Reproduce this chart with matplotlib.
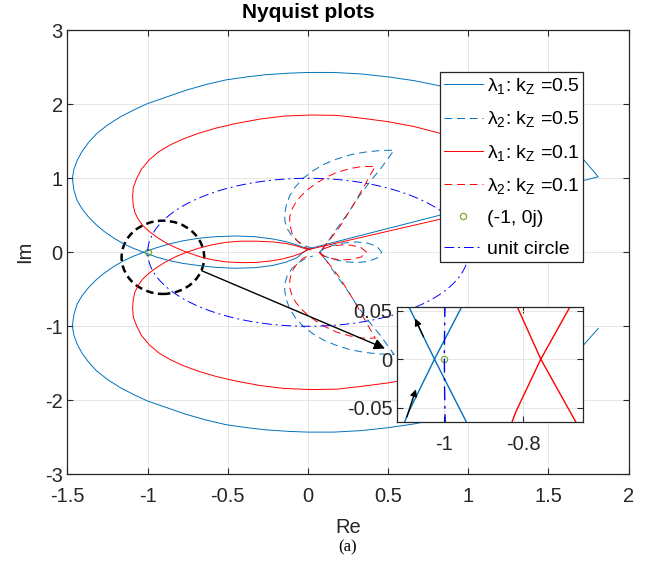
import numpy as np
import matplotlib
matplotlib.use('Agg')
import matplotlib.pyplot as plt
from matplotlib.patches import Ellipse
from matplotlib.ticker import FormatStrFormatter

plt.rcParams['font.family'] = ['Liberation Sans', 'DejaVu Sans']
plt.rcParams['mathtext.default'] = 'regular'
plt.rcParams['axes.unicode_minus'] = False

lam1_k05_re = [1.81, 1.72, 1.65, 1.55, 1.40, 1.20, 1.00, 0.82, 0.66, 0.50, 0.33, 0.16, 0.00, -0.12, -0.26,
               -0.38, -0.51, -0.63, -0.76, -0.88, -1.00, -1.08, -1.17, -1.25, -1.32, -1.37, -1.41, -1.44,
               -1.46, -1.47, -1.46, -1.44, -1.41, -1.37, -1.32, -1.27, -1.21, -1.15, -1.09, -1.025, -0.956,
               -0.87, -0.78, -0.68, -0.57, -0.45, -0.33, -0.22, -0.14, -0.07, 0.00,
               -0.03, -0.07, -0.14, -0.22, -0.33, -0.45, -0.57, -0.68, -0.78, -0.87, -0.944, -1.025,
               -1.09, -1.15, -1.21, -1.27, -1.32, -1.37, -1.41, -1.44, -1.46, -1.47, -1.46, -1.44, -1.41,
               -1.37, -1.32, -1.25, -1.17, -1.08, -1.00, -0.88, -0.76, -0.63, -0.51, -0.38, -0.26,
               -0.12, 0.00, 0.16, 0.33, 0.50, 0.66, 0.82, 1.00, 1.20, 1.40, 1.55, 1.65, 1.72, 1.81,
               1.72, 0.82, 0.00]
lam1_k05_im = [-1.03, -1.25, -1.42, -1.60, -1.80, -2.00, -2.15, -2.25, -2.32, -2.37, -2.41, -2.43, -2.43, -2.42, -2.40,
               -2.37, -2.33, -2.27, -2.19, -2.10, -2.01, -1.93, -1.83, -1.72, -1.60, -1.48, -1.36, -1.24,
               -1.12, -1.00, -0.84, -0.70, -0.59, -0.48, -0.37, -0.28, -0.19, -0.115, -0.054, 0.0, 0.054,
               0.11, 0.155, 0.19, 0.212, 0.22, 0.21, 0.18, 0.145, 0.10, 0.045,
               0.0, -0.075, -0.135, -0.178, -0.208, -0.216, -0.205, -0.18, -0.15, -0.11, -0.065, 0.0,
               0.054, 0.115, 0.19, 0.28, 0.37, 0.48, 0.59, 0.70, 0.84, 1.00, 1.12, 1.24, 1.36,
               1.48, 1.60, 1.72, 1.83, 1.93, 2.01, 2.10, 2.19, 2.27, 2.33, 2.37, 2.40,
               2.42, 2.43, 2.43, 2.41, 2.37, 2.32, 2.25, 2.15, 2.00, 1.80, 1.60, 1.42, 1.25, 1.02,
               0.97, 0.50, 0.045]

lam2_k05_re = [0.03, -0.02, -0.06, -0.10, -0.13, -0.144, -0.145, -0.135, -0.115, -0.08, -0.03, 0.03, 0.10,
               0.18, 0.27, 0.36, 0.45, 0.537, 0.49, 0.45, 0.40, 0.35, 0.30, 0.26, 0.21, 0.16, 0.12, 0.09,
               0.075, 0.10, 0.15, 0.22, 0.30, 0.37, 0.43, 0.46, 0.43, 0.37, 0.30, 0.22, 0.15, 0.10, 0.075,
               0.09, 0.12, 0.16, 0.21, 0.26, 0.30, 0.35, 0.40, 0.45, 0.49, 0.537, 0.45, 0.36, 0.27, 0.18,
               0.10, 0.03, -0.03, -0.08, -0.115, -0.135, -0.145, -0.144, -0.13, -0.10, -0.06, -0.02, 0.03]
lam2_k05_im = [0.05, 0.09, 0.14, 0.22, 0.32, 0.42, 0.52, 0.64, 0.76, 0.88, 1.00, 1.10, 1.19,
               1.26, 1.32, 1.355, 1.375, 1.38, 1.24, 1.12, 0.99, 0.85, 0.70, 0.56, 0.41, 0.26, 0.13, 0.04,
               -0.01, -0.05, -0.09, -0.125, -0.14, -0.125, -0.08, 0.0, 0.08, 0.125, 0.14, 0.125, 0.09, 0.05, 0.01,
               -0.04, -0.13, -0.26, -0.41, -0.56, -0.70, -0.85, -0.99, -1.12, -1.24, -1.38, -1.375, -1.355, -1.32, -1.26,
               -1.19, -1.10, -1.00, -0.88, -0.76, -0.64, -0.52, -0.42, -0.32, -0.22, -0.14, -0.09, -0.05]

lam1_k01_re = [1.45, 1.42, 1.35, 1.25, 1.12, 0.98, 0.82, 0.66, 0.50, 0.34, 0.18, 0.02, -0.15, -0.30,
               -0.45, -0.57, -0.68, -0.78, -0.86, -0.93, -0.99, -1.04, -1.07, -1.09, -1.094, -1.09,
               -1.08, -1.06, -1.03, -0.99, -0.94, -0.88, -0.819, -0.756, -0.682, -0.60, -0.51, -0.42,
               -0.32, -0.22, -0.14, -0.07, 0.00, -0.04, -0.09, -0.16, -0.24, -0.33, -0.42, -0.51, -0.60,
               -0.667, -0.756, -0.828, -0.88, -0.94, -0.99, -1.03, -1.06, -1.08, -1.09, -1.094,
               -1.09, -1.07, -1.04, -0.99, -0.93, -0.86, -0.78, -0.68, -0.57, -0.45, -0.30, -0.15,
               0.02, 0.18, 0.34, 0.50, 0.66, 0.82, 0.98, 1.12, 1.25, 1.35, 1.42, 1.45, 0.82, 0.00]
lam1_k01_im = [-0.82, -0.95, -1.10, -1.25, -1.40, -1.52, -1.61, -1.70, -1.765, -1.81, -1.85, -1.855, -1.84, -1.80,
               -1.74, -1.68, -1.61, -1.53, -1.45, -1.36, -1.25, -1.12, -0.99, -0.87, -0.75, -0.64,
               -0.54, -0.45, -0.36, -0.28, -0.20, -0.12, -0.054, 0.0, 0.054, 0.10, 0.135, 0.15,
               0.15, 0.14, 0.12, 0.085, 0.035, -0.01, -0.05, -0.09, -0.12, -0.138, -0.14, -0.13, -0.10,
               -0.065, 0.0, 0.065, 0.12, 0.20, 0.28, 0.36, 0.45, 0.54, 0.64, 0.75,
               0.87, 0.99, 1.12, 1.25, 1.36, 1.45, 1.53, 1.61, 1.68, 1.74, 1.80, 1.84,
               1.855, 1.85, 1.81, 1.765, 1.70, 1.61, 1.52, 1.40, 1.25, 1.10, 0.95, 0.82, 0.445, 0.035]

lam2_k01_re = [0.02, -0.03, -0.07, -0.10, -0.113, -0.114, -0.10, -0.075, -0.04, 0.00, 0.05, 0.11, 0.18,
               0.26, 0.34, 0.42, 0.39, 0.36, 0.32, 0.28, 0.24, 0.20, 0.15, 0.11, 0.07, 0.10, 0.15, 0.21,
               0.27, 0.33, 0.366, 0.33, 0.27, 0.21, 0.15, 0.10, 0.07, 0.11, 0.15, 0.20, 0.24, 0.28, 0.32,
               0.36, 0.39, 0.42, 0.34, 0.26, 0.18, 0.11, 0.05, 0.00, -0.04, -0.075, -0.10, -0.114, -0.113,
               -0.10, -0.07, -0.03, 0.02]
lam2_k01_im = [0.03, 0.08, 0.16, 0.26, 0.37, 0.48, 0.58, 0.68, 0.77, 0.85, 0.93, 1.01, 1.08,
               1.13, 1.16, 1.16, 1.05, 0.93, 0.78, 0.63, 0.49, 0.35, 0.21, 0.10, 0.0, -0.05, -0.085, -0.104,
               -0.095, -0.065, 0.0, 0.065, 0.095, 0.10, 0.085, 0.05, 0.0, -0.10, -0.21, -0.35, -0.49, -0.63, -0.78,
               -0.93, -1.05, -1.16, -1.16, -1.13, -1.08, -1.01, -0.93, -0.85, -0.77, -0.68, -0.58, -0.48, -0.37,
               -0.26, -0.16, -0.08, -0.03]

crit_re, crit_im = [-1.0], [0.0]

theta = np.linspace(0, 2 * np.pi, 400)
circle_re, circle_im = np.cos(theta), np.sin(theta)

labels = ['λ$_1$: k$_Z$ =0.5', 'λ$_2$: k$_Z$ =0.5', 'λ$_1$: k$_Z$ =0.1', 'λ$_2$: k$_Z$ =0.1',
          '(-1, 0j)', 'unit circle']

BLUE = '#0072BD'
RED = '#FF0000'
GREEN = '#77AC30'
UNIT = '#0000FF'
DASH = (0, (8, 5))
DASHDOT = (0, (10, 4, 2, 4))


def draw_loci(ax, lw=0.7):
    ax.plot(lam1_k05_re, lam1_k05_im, color=BLUE, lw=lw, label=labels[0])
    ax.plot(lam2_k05_re, lam2_k05_im, color=BLUE, lw=lw, ls=DASH, label=labels[1])
    ax.plot(lam1_k01_re, lam1_k01_im, color=RED, lw=lw, label=labels[2])
    ax.plot(lam2_k01_re, lam2_k01_im, color=RED, lw=lw, ls=DASH, label=labels[3])
    ax.plot(crit_re, crit_im, 'o', ms=4.5, mfc='none', mec=GREEN, mew=0.9, label=labels[4])
    ax.plot(circle_re, circle_im, color=UNIT, lw=lw, ls=DASHDOT, label=labels[5])


def style_axes(ax):
    ax.grid(True, color='#e6e6e6', lw=0.7)
    ax.set_axisbelow(True)
    ax.tick_params(direction='in', top=True, right=True, length=4.5, width=0.8,
                   labelsize=14.5, colors='#262626')
    ax.tick_params(axis='x', pad=9)
    for s in ax.spines.values():
        s.set_color('#262626')
        s.set_linewidth(0.9)
    ax.xaxis.set_major_formatter(FormatStrFormatter('%g'))
    ax.yaxis.set_major_formatter(FormatStrFormatter('%g'))


fig = plt.figure(figsize=(6.63, 5.70), dpi=100)
ax = fig.add_axes([0.1018, 0.1679, 0.8464, 0.779])
draw_loci(ax)
ax.set_xlim(-1.5, 2)
ax.set_ylim(-3, 3)
ax.set_xticks(np.arange(-1.5, 2.01, 0.5))
ax.set_yticks(np.arange(-3, 3.1, 1))
style_axes(ax)
ax.set_xlabel('Re', fontsize=14.5, color='#262626', labelpad=9)
ax.set_ylabel('Im', fontsize=14.5, color='#262626', labelpad=8)
fig.text(308 / 663, 1 - 12 / 570, 'Nyquist plots', ha='center', va='center',
         fontsize=15, fontweight='bold', color='k')

# zoom marker around the critical point
ax.add_patch(Ellipse((-0.905, -0.068), 0.515, 0.99, fill=False, color='k', lw=1.8, ls=(0, (3, 1.8))))
ax.annotate('', xy=(0.48, -1.30), xytext=(-0.663, -0.249),
            arrowprops=dict(arrowstyle='-|>', color='k', lw=1.0, mutation_scale=16, shrinkA=0, shrinkB=0))

leg = ax.legend(loc='upper right', bbox_to_anchor=(0.919, 0.906), fontsize=14, handlelength=2.0,
                labelspacing=0.69, borderpad=0.2, borderaxespad=0, handletextpad=0.2, fancybox=False,
                edgecolor='#262626', framealpha=1)
leg.get_frame().set_linewidth(0.9)

# inset around (-1, 0)
axin = fig.add_axes([0.5993, 0.2591, 0.2796, 0.2028])
draw_loci(axin, lw=1.0)
axin.set_xlim(-1.119, -0.65)
axin.set_ylim(-0.065, 0.054)
axin.set_xticks([-1, -0.8])
axin.set_yticks([-0.05, 0, 0.05])
style_axes(axin)
for tail, head in [((-1.053, 0.0231), (-1.074, 0.0418)), ((-1.095, -0.0595), (-1.072, -0.031))]:
    axin.annotate('', xy=head, xytext=tail,
                  arrowprops=dict(arrowstyle='-|>', color='k', lw=1.0, mutation_scale=10, shrinkA=0, shrinkB=0))

fig.text(348 / 663, 1 - 547 / 570, '(a)', ha='center', va='center', fontsize=12, family='Liberation Serif')

fig.savefig('out.png', dpi=100)
